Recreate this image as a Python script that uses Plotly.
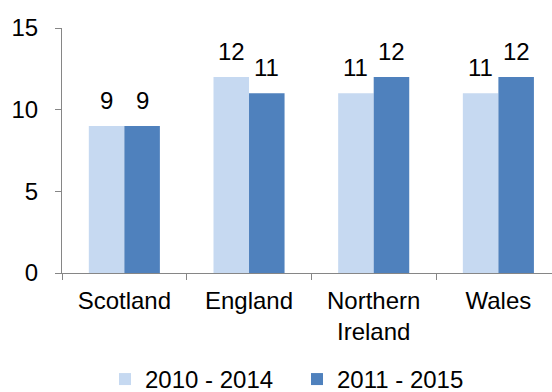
import plotly.graph_objects as go

# Chart data
regions = ["Scotland", "England", "Northern<br>Ireland", "Wales"]
series_names = ["2010 - 2014", "2011 - 2015"]
values_2010_2014 = [9, 12, 11, 11]
values_2011_2015 = [9, 11, 12, 12]
y_ticks = [0, 5, 10, 15]

colors = ["#C6D9F1", "#4F81BD"]
font_family = "Liberation Sans, Arial, sans-serif"
font_size = 24
axis_grey = "#868686"

fig = go.Figure()
series_values = [values_2010_2014, values_2011_2015]
for name, vals, col in zip(series_names, series_values, colors):
    fig.add_trace(go.Bar(
        x=regions, y=vals, name=name,
        marker=dict(color=col, line=dict(width=0)),
    ))

# Value labels above each bar, offset to sit over its own bar in the group
cat_px = 124.7
bar_px = cat_px * (1 - 0.43) / 2
for i, vals in enumerate(series_values):
    shift = (-0.5 if i == 0 else 0.5) * bar_px
    for reg, v in zip(regions, vals):
        fig.add_annotation(
            x=reg, y=v, xref="x", yref="y", text=str(v), showarrow=False,
            xshift=shift, yshift=10, yanchor="bottom",
            font=dict(family=font_family, size=font_size, color="#000000"),
        )

fig.update_layout(
    width=552, height=392,
    margin=dict(l=62, r=0, t=28, b=119, autoexpand=False),
    paper_bgcolor="white", plot_bgcolor="white",
    barmode="group", bargap=0.43, bargroupgap=0,
    font=dict(family=font_family, size=font_size, color="#000000"),
    showlegend=True,
    legend=dict(
        orientation="h", xref="container", yref="container",
        x=0.538, xanchor="center", y=0.032, yanchor="middle",
        font=dict(family=font_family, size=font_size, color="#000000"),
        itemwidth=30, entrywidth=147, traceorder="normal",
    ),
)
fig.update_xaxes(
    range=[-0.5, 3.43], showline=True, linecolor=axis_grey, linewidth=1,
    ticks="outside", tickson="boundaries", ticklen=6, tickcolor=axis_grey,
    showgrid=False, zeroline=False, tickangle=0, automargin=False,
    ticklabelstandoff=6,
)
fig.update_yaxes(
    range=[0, 15], tickvals=y_ticks, showline=True, linecolor=axis_grey,
    linewidth=1, ticks="outside", ticklen=6, tickcolor=axis_grey,
    showgrid=False, zeroline=False, ticklabelstandoff=12, automargin=False,
)

fig.write_html("out.html")
